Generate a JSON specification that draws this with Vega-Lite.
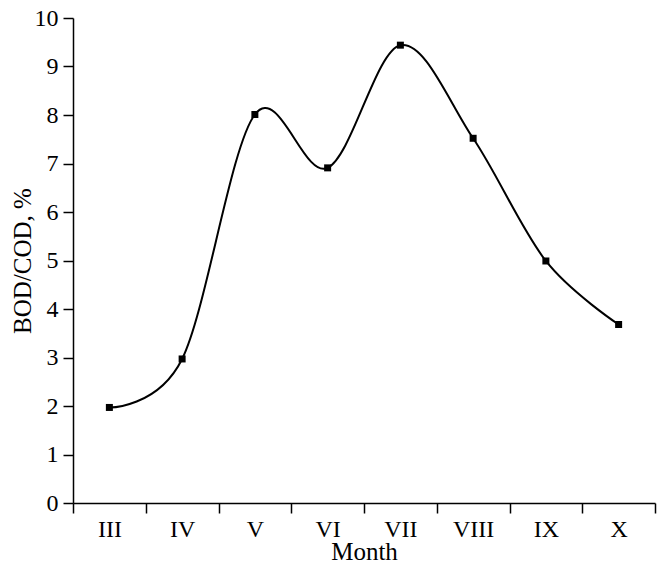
{
  "$schema": "https://vega.github.io/schema/vega-lite/v6.json",
  "width": 582,
  "height": 485,
  "autosize": "none",
  "padding": {"left": 73, "top": 18, "right": 3, "bottom": 64},
  "config": {
    "view": {"stroke": null},
    "font": "Liberation Serif",
    "axis": {
      "domainColor": "black",
      "domainWidth": 1.5,
      "tickColor": "black",
      "tickWidth": 1.5,
      "labelColor": "black",
      "titleColor": "black",
      "labelFont": "Liberation Serif",
      "titleFont": "Liberation Serif",
      "labelFontSize": 24,
      "titleFontSize": 25,
      "titleFontWeight": "normal",
      "grid": false
    }
  },
  "data": {
    "values": [
      {"month": "III", "idx": 1, "ratio": 1.97},
      {"month": "IV", "idx": 2, "ratio": 2.97},
      {"month": "V", "idx": 3, "ratio": 8.01},
      {"month": "VI", "idx": 4, "ratio": 6.91},
      {"month": "VII", "idx": 5, "ratio": 9.44},
      {"month": "VIII", "idx": 6, "ratio": 7.52},
      {"month": "IX", "idx": 7, "ratio": 4.99},
      {"month": "X", "idx": 8, "ratio": 3.68}
    ]
  },
  "encoding": {
    "x": {
      "field": "idx",
      "type": "quantitative",
      "scale": {"domain": [0.5, 8.5], "nice": false, "zero": false},
      "axis": {
        "values": [0.5, 1.5, 2.5, 3.5, 4.5, 5.5, 6.5, 7.5, 8.5],
        "tickSize": 10,
        "labelPadding": 4,
        "labelOffset": 36.4,
        "labelFlush": false,
        "labelOverlap": false,
        "labelExpr": "datum.value < 8 ? ['III','IV','V','VI','VII','VIII','IX','X'][floor(datum.value)] : ''",
        "title": "Month",
        "titlePadding": -2
      }
    },
    "y": {
      "field": "ratio",
      "type": "quantitative",
      "scale": {"domain": [0, 10], "nice": false},
      "axis": {
        "values": [0, 1, 2, 3, 4, 5, 6, 7, 8, 9, 10],
        "tickSize": 10,
        "labelPadding": 5,
        "title": "BOD/COD, %",
        "titlePadding": -1
      }
    }
  },
  "layer": [
    {"mark": {"type": "line", "interpolate": "cardinal", "color": "black", "strokeWidth": 2}},
    {"mark": {"type": "square", "color": "black", "size": 49, "opacity": 1}}
  ]
}
